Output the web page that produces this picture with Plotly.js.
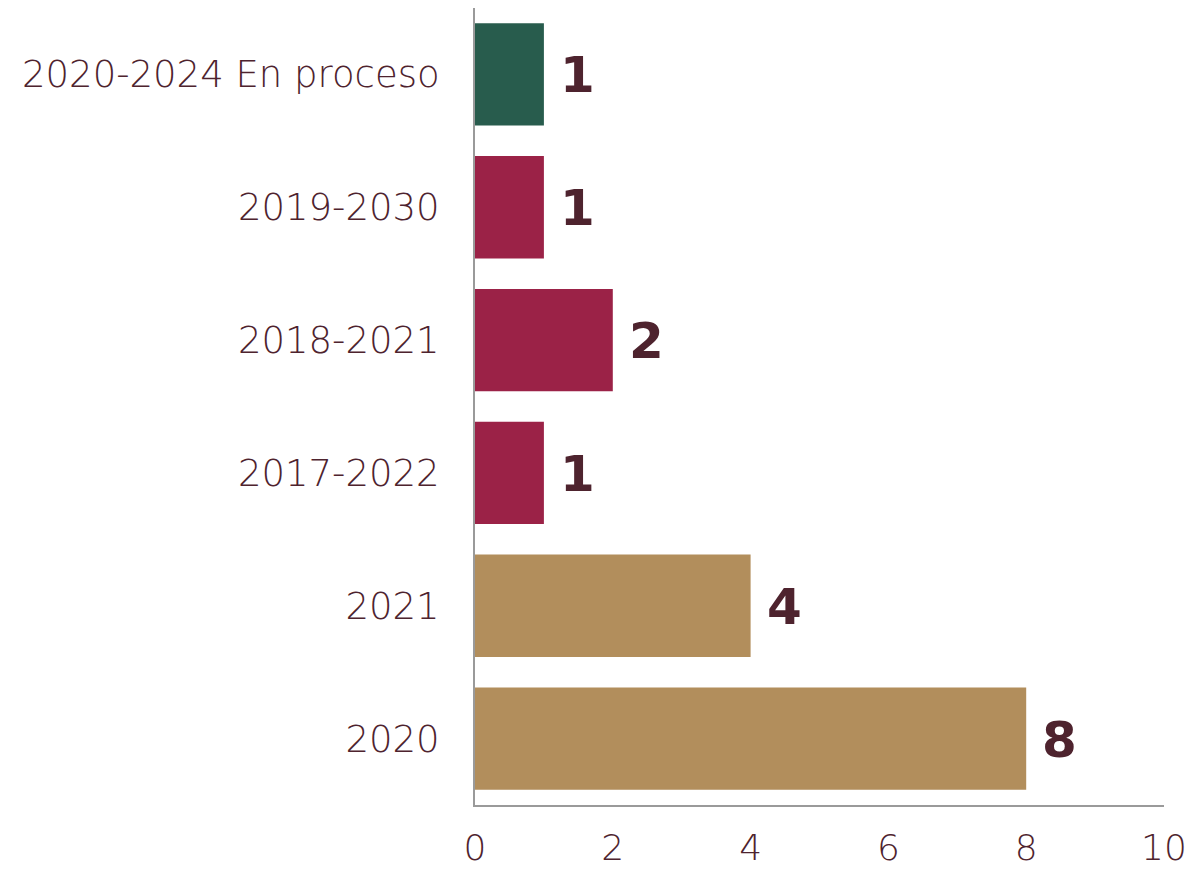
<!DOCTYPE html>
<html><head><meta charset="utf-8">
<script src="https://cdn.plot.ly/plotly-3.0.1.min.js"></script>
<style>html,body{margin:0;padding:0;background:#fff}#chart{width:1191px;height:872px}</style>
</head><body><div id="chart"></div>
<script>
const categories = ["2020", "2021", "2017-2022", "2018-2021", "2019-2030", "2020-2024 En proceso"];
const values = [8, 4, 1, 2, 1, 1];
const barColors = ["#B28E5C", "#B28E5C", "#9B2247", "#9B2247", "#9B2247", "#285C4D"];
const xTicks = [0, 2, 4, 6, 8, 10];

const textColor = "#4E232E";
const font = "'DejaVu Sans', sans-serif";

const trace = {
  type: "bar", orientation: "h",
  x: values, y: categories,
  marker: {color: barColors},
  width: 0.77,
  hoverinfo: "none"
};

const annotations = values.map((v, i) => ({
  x: v, y: i, xref: "x", yref: "y",
  text: "<b>" + v + "</b>", showarrow: false,
  xanchor: "left", yanchor: "middle", xshift: 14, yshift: -1,
  font: {family: font, size: 50, color: textColor}
}));

const layout = {
  width: 1191, height: 872,
  margin: {l: 475, r: 27, t: 8, b: 67},
  paper_bgcolor: "#fff", plot_bgcolor: "#fff",
  showlegend: false,
  xaxis: {
    range: [0, 10], tickvals: xTicks, ticktext: xTicks.map(String),
    showgrid: false, zeroline: false, showline: true,
    linecolor: "#9a9a9a", linewidth: 2, ticks: "",
    ticklabelstandoff: 10,
    tickfont: {family: font, size: 36, color: textColor, weight: 300}
  },
  yaxis: {
    type: "category", categoryorder: "array", categoryarray: categories,
    range: [-0.5, 5.5],
    showgrid: false, zeroline: false, showline: true,
    linecolor: "#9a9a9a", linewidth: 2, ticks: "",
    ticklabelstandoff: 26,
    tickfont: {family: font, size: 37, color: textColor, weight: 300}
  },
  annotations: annotations
};

Plotly.newPlot("chart", [trace], layout, {displayModeBar: false, staticPlot: true});
</script></body></html>
